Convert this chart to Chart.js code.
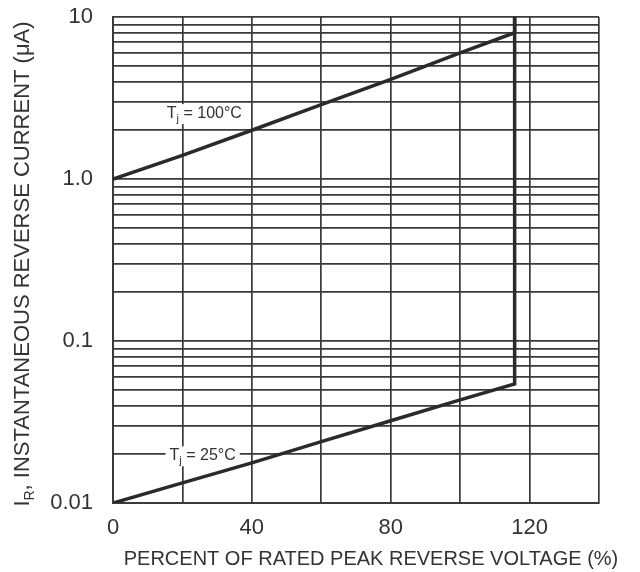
<!DOCTYPE html>
<html>
<head>
<meta charset="utf-8">
<title>Reverse current vs percent of rated voltage</title>
<script src="https://cdn.jsdelivr.net/npm/chart.js@4.4.1/dist/chart.umd.min.js"></script>
<style>
  html, body { margin: 0; padding: 0; background: #fff; }
  #chart { display: block; }
</style>
</head>
<body>
<canvas id="chart" width="640" height="572"></canvas>
<script>
'use strict';

// values (percent of rated voltage -> uA)
var percent = [0, 20, 40, 60, 80, 100, 115.7, 115.7];
var current25 = [0.01, 0.0133, 0.0177, 0.0239, 0.0322, 0.0433, 0.0543, 10];
var current100 = [1.0, 1.4, 2.0, 2.88, 4.12, 6.0, 8.0, 10];

// axis ticks
var xTickLabels = [0, 40, 80, 120];
var yDecades = [0.01, 0.1, 1, 10];
var yTickLabels = ['0.01', '0.1', '1.0', '10'];
var yMinorSteps = [1, 2, 3, 4, 5, 6, 7, 8, 9];

// curve labels, placed in data units
var curveLabels = [
  { main: 'T', sub: 'j', rest: ' = 100\u00B0C', x: 15.5, y: 2.55 },
  { main: 'T', sub: 'j', rest: ' = 25\u00B0C', x: 16.3, y: 0.0197 }
];

var ink = '#333333';
var gridInk = '#3a3a3a';
var fontFamily = '"Liberation Sans", Arial, Helvetica, sans-serif';

function toPoints(xs, ys) {
  var pts = [];
  for (var i = 0; i < xs.length; i++) {
    pts.push({ x: xs[i], y: ys[i] });
  }
  return pts;
}

// every 1..9 x decade gets a grid line, like the printed log paper
var yGrid = [];
for (var d = 0; d < yDecades.length - 1; d++) {
  for (var s = 0; s < yMinorSteps.length; s++) {
    yGrid.push(+(yDecades[d] * yMinorSteps[s]).toPrecision(3));
  }
}
yGrid.push(yDecades[yDecades.length - 1]);

// subscripted labels and axis titles are drawn by hand
var annotate = {
  id: 'annotate',
  beforeDatasetsDraw: function(chart) {
    var ctx = chart.ctx;
    var xs = chart.scales.x;
    var ys = chart.scales.y;
    ctx.save();
    ctx.textBaseline = 'middle';
    ctx.textAlign = 'left';
    curveLabels.forEach(function(lab) {
      var px = xs.getPixelForValue(lab.x);
      var py = ys.getPixelForValue(lab.y);
      ctx.font = '16px ' + fontFamily;
      var w1 = ctx.measureText(lab.main).width;
      var w3 = ctx.measureText(lab.rest).width;
      ctx.font = '11px ' + fontFamily;
      var w2 = ctx.measureText(lab.sub).width;
      ctx.fillStyle = '#ffffff';
      ctx.fillRect(px - 4, py - 9, w1 + w2 + w3 + 8, 20);
      ctx.fillStyle = ink;
      ctx.font = '16px ' + fontFamily;
      ctx.fillText(lab.main, px, py);
      ctx.font = '11px ' + fontFamily;
      ctx.fillText(lab.sub, px + w1, py + 6);
      ctx.font = '16px ' + fontFamily;
      ctx.fillText(lab.rest, px + w1 + w2, py);
    });
    ctx.restore();
  },
  afterDraw: function(chart) {
    var ctx = chart.ctx;
    ctx.save();
    ctx.fillStyle = ink;
    ctx.textBaseline = 'middle';

    // x title
    ctx.font = '20px ' + fontFamily;
    ctx.textAlign = 'center';
    ctx.fillText('PERCENT OF RATED PEAK REVERSE VOLTAGE (%)', 371, 559);

    // y title with subscript R
    var big = '22px ' + fontFamily;
    var small = '14px ' + fontFamily;
    var partA = 'I';
    var partB = 'R';
    var partC = ', INSTANTANEOUS REVERSE CURRENT (\u03BCA)';
    ctx.font = big;
    var wa = ctx.measureText(partA).width;
    var wc = ctx.measureText(partC).width;
    ctx.font = small;
    var wb = ctx.measureText(partB).width;
    var total = wa + wb + wc;
    ctx.translate(23, 264);
    ctx.rotate(-Math.PI / 2);
    ctx.textAlign = 'left';
    var start = -total / 2;
    ctx.font = big;
    ctx.fillText(partA, start, 0);
    ctx.font = small;
    ctx.fillText(partB, start + wa, 7);
    ctx.font = big;
    ctx.fillText(partC, start + wa + wb, 0);
    ctx.restore();
  }
};

var ctx = document.getElementById('chart').getContext('2d');
new Chart(ctx, {
  type: 'line',
  data: {
    datasets: [{
      label: 'Tj = 25\u00B0C',
      data: toPoints(percent, current25),
      borderColor: '#2a2a2a',
      borderWidth: 3.5,
      pointRadius: 0,
      tension: 0,
      fill: false
    }, {
      label: 'Tj = 100\u00B0C',
      data: toPoints(percent, current100),
      borderColor: '#2a2a2a',
      borderWidth: 3.5,
      pointRadius: 0,
      tension: 0,
      fill: false
    }]
  },
  options: {
    responsive: false,
    animation: false,
    events: [],
    layout: { padding: { top: 17, right: 41, left: 0, bottom: 0 } },
    plugins: {
      legend: { display: false },
      tooltip: { enabled: false }
    },
    scales: {
      x: {
        type: 'linear',
        min: 0,
        max: 140,
        afterFit: function(scale) {
          scale.height = 69;
          scale.paddingLeft = 0;
          scale.paddingRight = 0;
        },
        ticks: {
          stepSize: 20,
          autoSkip: false,
          maxRotation: 0,
          padding: 12,
          color: ink,
          font: { family: fontFamily, size: 22 },
          callback: function(v) {
            return xTickLabels.indexOf(v) >= 0 ? String(v) : '';
          }
        },
        grid: { color: gridInk, lineWidth: 1.7, drawTicks: false },
        border: { color: gridInk, width: 2 }
      },
      y: {
        type: 'logarithmic',
        min: yDecades[0],
        max: yDecades[yDecades.length - 1],
        afterFit: function(scale) {
          scale.width = 113;
          scale.paddingTop = 0;
          scale.paddingBottom = 0;
        },
        afterBuildTicks: function(scale) {
          scale.ticks = yGrid.map(function(v) { return { value: v }; });
        },
        ticks: {
          autoSkip: false,
          padding: 20,
          color: ink,
          font: { family: fontFamily, size: 22 },
          callback: function(v) {
            for (var i = 0; i < yDecades.length; i++) {
              if (Math.abs(v - yDecades[i]) < yDecades[i] * 1e-6) { return yTickLabels[i]; }
            }
            return '';
          }
        },
        grid: { color: gridInk, lineWidth: 1.7, drawTicks: false },
        border: { color: gridInk, width: 2 }
      }
    }
  },
  plugins: [annotate]
});
</script>
</body>
</html>
